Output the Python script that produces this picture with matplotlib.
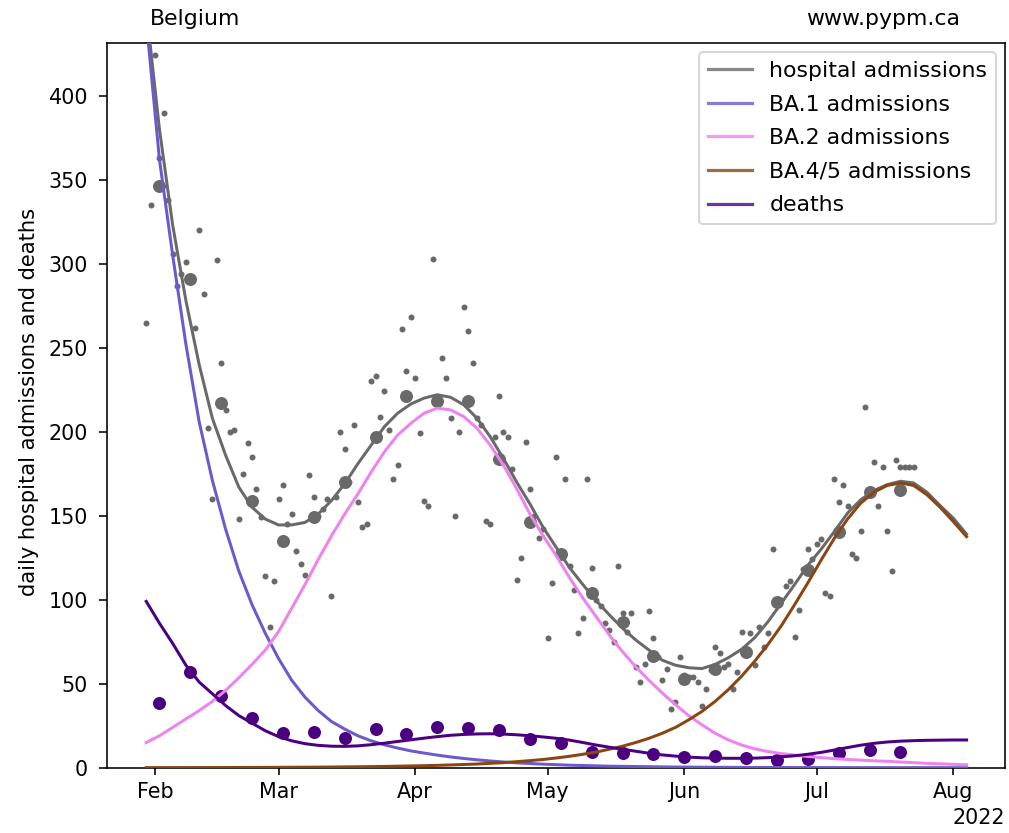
import numpy as np
import pandas as pd
import matplotlib
matplotlib.use("Agg")
import matplotlib.pyplot as plt
import matplotlib.dates as mdates
from matplotlib.lines import Line2D

# ---------------- data ----------------
daily_start = "2022-01-30"
daily_admissions = [
    265, 335, 424, 363, 390, 338, 306, 287, 294, 301, 290, 262,
    320, 282, 202, 160, 302, 241, 213, 200, 201, 148,
    175, 193, 185, 166, 149, 114, 84, 111, 160, 168,
    145, 151, 129, 121, 115, 174, 161, 150, 154, 160,
    102, 161, 200, 190, 170, 204, 158, 143, 145, 230,
    233, 209, 224, 201, 172, 180, 261, 236, 268, 232,
    199, 159, 156, 303, 218, 244, 232, 208, 150, 200,
    274, 260, 241, 208, 204, 147, 145, 197, 221, 200,
    197, 178, 112, 125, 194, 166, 150, 137, 142, 77,
    110, 185, 128, 172, 120, 106, 80, 89, 172, 119,
    100, 96, 86, 82, 75, 120, 92, 81, 92, 60,
    51, 62, 93, 77, 66, 52, 59, 35, 39, 66,
    55, 54, 54, 51, 37, 47, 58, 72, 68, 60,
    62, 47, 57, 81, 70, 80, 61, 84, 72, 80,
    130, 99, 100, 108, 111, 78, 94, 118, 130, 124,
    133, 136, 104, 102, 172, 158, 168, 156, 127, 125,
    141, 215, 165, 182, 156, 179, 141, 117, 183, 179,
    179, 179, 179,
]

weekly_start = "2022-02-02"
weekly_admissions = [346, 291, 217, 159, 135, 149, 170, 197, 221, 218, 218.5, 184,
                     146, 127, 104, 87, 66.5, 52.6, 58.6, 69, 98.8, 117.7,
                     140.5, 164.3, 165.3]
weekly_deaths = [38.4, 56.8, 42.7, 29.4, 20.5, 21.4, 17.5, 22.8, 20, 24.4, 23.5, 22.5,
                 17, 15, 9.5, 8.9, 8.2, 6.2, 7.0, 5.8, 4.6, 5.4, 8.6, 10.5, 9.5]

model_start = "2022-01-30"   # model curves sampled every 3 days
model_total = [452, 380, 323, 278, 240, 208, 186, 167, 155, 148,
               144.5, 144.5, 146, 151, 159, 169, 181, 192, 203, 211,
               216.5, 220, 222, 220.5, 216, 208, 197, 184, 170, 157,
               143, 131, 119, 109, 99.5, 91, 83, 76, 70, 64,
               61, 59.5, 59, 61.5, 65.5, 70.5, 77.5, 87, 98, 109,
               120.5, 130, 140.5, 151.5, 159.5, 165, 168.5, 170.5, 169.5, 164,
               156, 148.5, 139]
model_ba1 = [445, 362, 305, 252, 206, 171, 142, 117, 97, 80,
             65, 52, 42, 34, 27.5, 23, 19, 16, 13.6, 11.7,
             10, 8.7, 7.5, 6.4, 5.5, 4.7, 4.0, 3.4, 2.9, 2.5,
             2.1, 1.8, 1.5, 1.3, 1.1, 0.9, 0.8, 0.7, 0.6, 0.5,
             0.4, 0.35, 0.3, 0.25, 0.2, 0.18, 0.15, 0.13, 0.11, 0.1,
             0.09, 0.08, 0.07, 0.06, 0.05, 0.05, 0.04, 0.04, 0.03, 0.03,
             0.03, 0.02, 0.02]
model_ba2 = [15, 19, 24, 29, 34, 39.5, 46, 53.5, 61.5, 70,
             81, 95, 109, 124, 138, 151, 163, 176, 188, 198,
             205, 211, 214, 213, 209, 202, 192, 180, 166, 151,
             138, 126, 113, 101, 90, 79, 69, 60, 52, 44.5,
             37.5, 31, 25.5, 20.5, 16.5, 13.5, 11.2, 9.6, 8.4, 7.5,
             6.7, 6.0, 5.4, 4.9, 4.5, 4.1, 3.8, 3.4, 3.0, 2.6,
             2.3, 2.0, 1.7]
model_ba45 = [0.05, 0.06, 0.07, 0.08, 0.09, 0.1, 0.12, 0.14, 0.16, 0.19,
              0.22, 0.26, 0.3, 0.35, 0.41, 0.48, 0.56, 0.65, 0.76, 0.9,
              1.05, 1.2, 1.4, 1.65, 1.9, 2.2, 2.6, 3.0, 3.6, 4.2,
              4.9, 5.8, 6.8, 8.0, 9.3, 11, 12.8, 15, 17.5, 20.5,
              24, 28.5, 33.5, 39.5, 46.5, 54.5, 63.5, 73.5, 84.5, 97,
              110, 123.5, 136.5, 148, 157.5, 164, 168, 169.5, 168, 162.5,
              155, 146.5, 137.5]
model_deaths = [99, 86, 74, 61, 51, 44, 37, 31, 26.5, 22,
                18.5, 16, 14.3, 13.3, 12.8, 12.7, 13, 13.7, 14.6, 15.6,
                16.6, 17.6, 18.5, 19.3, 19.8, 20.1, 20.2, 20, 19.6, 19,
                18.3, 17.5, 16.4, 15, 13.5, 12.2, 11, 9.8, 8.6, 7.6,
                6.9, 6.3, 5.9, 5.7, 5.6, 5.6, 5.7, 6.0, 6.5, 7.1,
                8.0, 9.1, 10.5, 12, 13.4, 14.5, 15.3, 15.8, 16.1, 16.3,
                16.4, 16.5, 16.5]

labels = ["hospital admissions", "BA.1 admissions", "BA.2 admissions",
          "BA.4/5 admissions", "deaths"]
colors = ["dimgray", "slateblue", "violet", "saddlebrown", "indigo"]

# ---------------- figure ----------------
dpi = 144
fig = plt.figure(figsize=(1009 / dpi, 833 / dpi), dpi=dpi)
W, H = 1009, 833
left, right, top, bottom = 106.7, 1005, 43.3, 767.7
ax = fig.add_axes([left / W, (H - bottom) / H, (right - left) / W, (bottom - top) / H])

d_daily = pd.date_range(daily_start, periods=len(daily_admissions), freq="D")
d_week = pd.date_range(weekly_start, periods=len(weekly_admissions), freq="7D")
d_model = pd.date_range(model_start, periods=len(model_total), freq="3D")

ax.plot(d_daily, daily_admissions, "o", color="dimgray", ms=3, mew=0, zorder=2)
ax.plot(d_week, weekly_admissions, "o", color="dimgray", ms=6.5, mew=0, zorder=2)
ax.plot(d_week, weekly_deaths, "o", color="indigo", ms=6.5, mew=0, zorder=2)

series = [model_total, model_ba1, model_ba2, model_ba45, model_deaths]
for vals, c in zip(series, colors):
    ax.plot(d_model, vals, color=c, lw=1.5, zorder=3)

handles = [Line2D([], [], color=c, lw=1.6, alpha=0.8) for c in colors]
ax.legend(handles, labels, loc="upper right", fontsize=11, borderaxespad=0.4,
          labelspacing=0.62)

ax.set_ylim(0, 431.2)
ax.set_xlim(pd.Timestamp("2022-01-21 01:00"), pd.Timestamp("2022-08-12 17:00"))
loc = mdates.MonthLocator()
ax.xaxis.set_major_locator(loc)
ax.xaxis.set_major_formatter(mdates.ConciseDateFormatter(loc))
ax.set_yticks([0, 50, 100, 150, 200, 250, 300, 350, 400])
ax.tick_params(labelsize=10.3)
ax.tick_params(axis="y", pad=5.3, length=4)
ax.xaxis.get_offset_text().set_fontsize(10.3)
ax.set_ylabel("daily hospital admissions and deaths", fontsize=10.5)
ax.yaxis.set_label_coords(-0.075, 0.505)

ax.text(0.048, 1.02, "Belgium", transform=ax.transAxes, ha="left", va="bottom", fontsize=11)
ax.text(0.95, 1.02, "www.pypm.ca", transform=ax.transAxes, ha="right", va="bottom", fontsize=11)

fig.savefig("out.png", dpi=dpi)
